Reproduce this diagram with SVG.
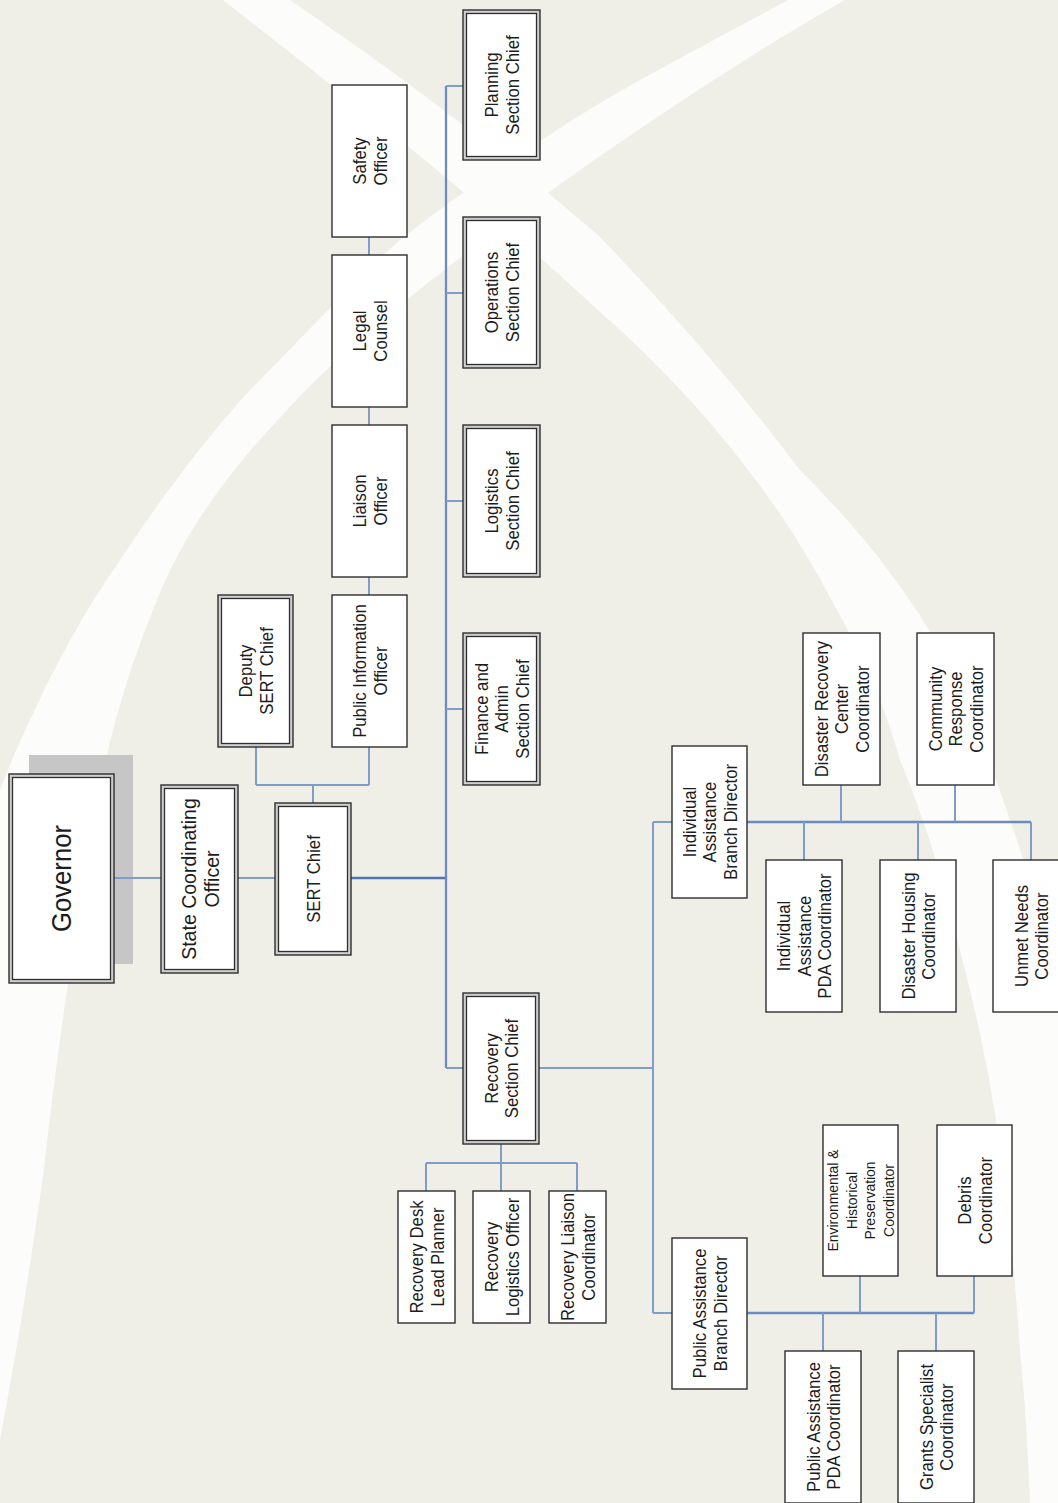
<svg xmlns="http://www.w3.org/2000/svg" width="1058" height="1503" viewBox="0 0 1058 1503">
<style>
.bg{fill:#efefe8}
.band{fill:#fcfcfa}
.box{fill:#ffffff;stroke:#2e2e2e;stroke-width:1.4}
.dbo{fill:#cfcfcf;stroke:#2e2e2e;stroke-width:1.4}
.dbi{fill:#ffffff;stroke:#2e2e2e;stroke-width:1.3}
.c{fill:none;stroke:#7f9dc8;stroke-width:2}
.ck{fill:none;stroke:#4f72b0;stroke-width:2.6}
.cm{fill:none;stroke:#6a8cc2;stroke-width:2.3}
.t{font-family:"Liberation Sans",Arial,sans-serif;font-size:19px;fill:#1c1c1c;text-anchor:middle}
</style>
<rect class="bg" x="0" y="0" width="1058" height="1503"/>
<g id="background">
<path class="band" d="M845,0 C740,60 660,115 600,156 C480,240 360,330 287,410 C230,470 185,530 157,600 C120,690 100,770 90,850 C70,960 55,1070 43,1176 C30,1270 15,1360 0,1440 L0,790 C10,765 20,740 30,720 C55,665 85,610 120,560 C160,500 200,445 250,390 C300,340 350,285 400,240 C470,185 540,140 600,103 C660,68 730,32 788,0 Z"/>
<path class="band" d="M223,0 C350,100 480,200 600,312 C700,400 780,500 833,603 C860,650 885,705 900,760 C925,820 945,885 960,950 C978,1020 992,1085 1000,1150 C1010,1220 1016,1290 1020,1350 C1025,1400 1028,1450 1030,1503 L1058,1503 L1058,1000 C1045,935 1030,875 1010,820 C990,760 965,700 935,640 C900,580 855,525 800,470 C740,390 670,310 600,237 C500,150 400,75 290,0 Z"/>
<rect x="29" y="755" width="104" height="209" fill="#c6c6c6"/>
</g>
<g id="connectors">
<path class="c" d="M114,878 H161"/>
<path class="c" d="M238,878 H275"/>
<path class="ck" d="M351,878 H446"/>
<path class="cm" d="M446,86 V1068"/>
<path class="c" d="M446,86 H463 M446,293 H463 M446,501 H463 M446,709 H463 M446,1068 H463"/>
<path class="c" d="M313,803 V785 M256,785 H369 M256,785 V747 M369,785 V747"/>
<path class="c" d="M369,595 V577 M369,425 V407 M369,255 V237"/>
<path class="c" d="M539,1068 H653 M653,822 V1313 M653,822 H672 M653,1313 H672"/>
<path class="c" d="M501,1144 V1163 M426,1163 H577 M426,1163 V1191 M501,1163 V1191 M577,1163 V1191"/>
<path class="cm" d="M747,822 H1031"/>
<path class="c" d="M804,822 V860 M918,822 V860 M1031,822 V860 M841,822 V785 M955,822 V785"/>
<path class="cm" d="M747,1313 H974"/>
<path class="c" d="M823,1313 V1351 M936,1313 V1351 M860,1313 V1276 M974,1313 V1276"/>
</g>
<g id="governor">
<rect class="dbo" x="9" y="774" width="105" height="209"/><rect class="dbi" x="12.5" y="777.5" width="98" height="202"/>
<text class="t" style="font-size:27px" transform="translate(61.5 878.5) rotate(-90) scale(0.95 1)"><tspan x="0" y="9.7">Governor</tspan></text>
</g>
<g id="sco">
<rect class="dbo" x="161" y="785" width="77" height="188"/><rect class="dbi" x="164.5" y="788.5" width="70" height="181"/>
<text class="t" style="font-size:21px" transform="translate(199.5 879) rotate(-90) scale(0.93 1)"><tspan x="0" y="-3.9">State Coordinating</tspan><tspan x="0" y="19.1">Officer</tspan></text>
</g>
<g id="sert-chief">
<rect class="dbo" x="275" y="803" width="76" height="152"/><rect class="dbi" x="278.5" y="806.5" width="69" height="145"/>
<text class="t" transform="translate(313 879) rotate(-90) scale(0.88 1)"><tspan x="0" y="6.8">SERT Chief</tspan></text>
</g>
<g id="deputy">
<rect class="dbo" x="218" y="595" width="75" height="152"/><rect class="dbi" x="221.5" y="598.5" width="68" height="145"/>
<text class="t" transform="translate(255.5 671) rotate(-90) scale(0.88 1)"><tspan x="0" y="-3.45">Deputy</tspan><tspan x="0" y="17.05">SERT Chief</tspan></text>
</g>
<g id="pio">
<rect class="box" x="332" y="595" width="75" height="152"/>
<text class="t" transform="translate(369.5 671) rotate(-90) scale(0.88 1)"><tspan x="0" y="-3.45">Public Information</tspan><tspan x="0" y="17.05">Officer</tspan></text>
</g>
<g id="liaison">
<rect class="box" x="332" y="425" width="75" height="152"/>
<text class="t" transform="translate(369.5 501) rotate(-90) scale(0.88 1)"><tspan x="0" y="-3.45">Liaison</tspan><tspan x="0" y="17.05">Officer</tspan></text>
</g>
<g id="legal">
<rect class="box" x="332" y="255" width="75" height="152"/>
<text class="t" transform="translate(369.5 331) rotate(-90) scale(0.88 1)"><tspan x="0" y="-3.45">Legal</tspan><tspan x="0" y="17.05">Counsel</tspan></text>
</g>
<g id="safety">
<rect class="box" x="332" y="85" width="75" height="152"/>
<text class="t" transform="translate(369.5 161) rotate(-90) scale(0.88 1)"><tspan x="0" y="-3.45">Safety</tspan><tspan x="0" y="17.05">Officer</tspan></text>
</g>
<g id="planning">
<rect class="dbo" x="463" y="10" width="77" height="150"/><rect class="dbi" x="466.5" y="13.5" width="70" height="143"/>
<text class="t" transform="translate(501.5 85) rotate(-90) scale(0.88 1)"><tspan x="0" y="-3.45">Planning</tspan><tspan x="0" y="17.05">Section Chief</tspan></text>
</g>
<g id="operations">
<rect class="dbo" x="463" y="217" width="77" height="151"/><rect class="dbi" x="466.5" y="220.5" width="70" height="144"/>
<text class="t" transform="translate(501.5 292.5) rotate(-90) scale(0.88 1)"><tspan x="0" y="-3.45">Operations</tspan><tspan x="0" y="17.05">Section Chief</tspan></text>
</g>
<g id="logistics">
<rect class="dbo" x="463" y="425" width="77" height="152"/><rect class="dbi" x="466.5" y="428.5" width="70" height="145"/>
<text class="t" transform="translate(501.5 501) rotate(-90) scale(0.88 1)"><tspan x="0" y="-3.45">Logistics</tspan><tspan x="0" y="17.05">Section Chief</tspan></text>
</g>
<g id="finance">
<rect class="dbo" x="463" y="633" width="77" height="152"/><rect class="dbi" x="466.5" y="636.5" width="70" height="145"/>
<text class="t" transform="translate(501.5 709) rotate(-90) scale(0.88 1)"><tspan x="0" y="-13.7">Finance and</tspan><tspan x="0" y="6.8">Admin</tspan><tspan x="0" y="27.3">Section Chief</tspan></text>
</g>
<g id="recovery">
<rect class="dbo" x="463" y="993" width="76" height="151"/><rect class="dbi" x="466.5" y="996.5" width="69" height="144"/>
<text class="t" transform="translate(501 1068.5) rotate(-90) scale(0.88 1)"><tspan x="0" y="-3.45">Recovery</tspan><tspan x="0" y="17.05">Section Chief</tspan></text>
</g>
<g id="rec-desk">
<rect class="box" x="398" y="1191" width="57" height="132"/>
<text class="t" transform="translate(426.5 1257) rotate(-90) scale(0.88 1)"><tspan x="0" y="-3.45">Recovery Desk</tspan><tspan x="0" y="17.05">Lead Planner</tspan></text>
</g>
<g id="rec-logistics">
<rect class="box" x="473" y="1191" width="57" height="132"/>
<text class="t" transform="translate(501.5 1257) rotate(-90) scale(0.88 1)"><tspan x="0" y="-3.45">Recovery</tspan><tspan x="0" y="17.05">Logistics Officer</tspan></text>
</g>
<g id="rec-liaison">
<rect class="box" x="549" y="1191" width="57" height="132"/>
<text class="t" transform="translate(577.5 1257) rotate(-90) scale(0.88 1)"><tspan x="0" y="-3.45">Recovery Liaison</tspan><tspan x="0" y="17.05">Coordinator</tspan></text>
</g>
<g id="ia-director">
<rect class="box" x="672" y="746" width="75" height="152"/>
<text class="t" transform="translate(709.5 822) rotate(-90) scale(0.88 1)"><tspan x="0" y="-13.7">Individual</tspan><tspan x="0" y="6.8">Assistance</tspan><tspan x="0" y="27.3">Branch Director</tspan></text>
</g>
<g id="drc">
<rect class="box" x="803" y="633" width="77" height="152"/>
<text class="t" transform="translate(841.5 709) rotate(-90) scale(0.88 1)"><tspan x="0" y="-13.7">Disaster Recovery</tspan><tspan x="0" y="6.8">Center</tspan><tspan x="0" y="27.3">Coordinator</tspan></text>
</g>
<g id="crc">
<rect class="box" x="917" y="633" width="77" height="152"/>
<text class="t" transform="translate(955.5 709) rotate(-90) scale(0.88 1)"><tspan x="0" y="-13.7">Community</tspan><tspan x="0" y="6.8">Response</tspan><tspan x="0" y="27.3">Coordinator</tspan></text>
</g>
<g id="ia-pda">
<rect class="box" x="766" y="860" width="76" height="152"/>
<text class="t" transform="translate(804 936) rotate(-90) scale(0.88 1)"><tspan x="0" y="-13.7">Individual</tspan><tspan x="0" y="6.8">Assistance</tspan><tspan x="0" y="27.3">PDA Coordinator</tspan></text>
</g>
<g id="housing">
<rect class="box" x="880" y="860" width="76" height="152"/>
<text class="t" transform="translate(918 936) rotate(-90) scale(0.88 1)"><tspan x="0" y="-3.45">Disaster Housing</tspan><tspan x="0" y="17.05">Coordinator</tspan></text>
</g>
<g id="unmet">
<rect class="box" x="993" y="860" width="76" height="152"/>
<text class="t" transform="translate(1031 936) rotate(-90) scale(0.88 1)"><tspan x="0" y="-3.45">Unmet Needs</tspan><tspan x="0" y="17.05">Coordinator</tspan></text>
</g>
<g id="pa-director">
<rect class="box" x="672" y="1238" width="75" height="151"/>
<text class="t" transform="translate(709.5 1313.5) rotate(-90) scale(0.88 1)"><tspan x="0" y="-3.45">Public Assistance</tspan><tspan x="0" y="17.05">Branch Director</tspan></text>
</g>
<g id="env-hist">
<rect class="box" x="823" y="1125" width="75" height="151"/>
<text class="t" style="font-size:15px" transform="translate(860.5 1200.5) rotate(-90) scale(0.93 1)"><tspan x="0" y="-22.35">Environmental &amp;</tspan><tspan x="0" y="-3.85">Historical</tspan><tspan x="0" y="14.65">Preservation</tspan><tspan x="0" y="33.15">Coordinator</tspan></text>
</g>
<g id="debris">
<rect class="box" x="937" y="1125" width="75" height="151"/>
<text class="t" transform="translate(974.5 1200.5) rotate(-90) scale(0.88 1)"><tspan x="0" y="-3.45">Debris</tspan><tspan x="0" y="17.05">Coordinator</tspan></text>
</g>
<g id="pa-pda">
<rect class="box" x="785" y="1351" width="76" height="152"/>
<text class="t" transform="translate(823 1427) rotate(-90) scale(0.88 1)"><tspan x="0" y="-3.45">Public Assistance</tspan><tspan x="0" y="17.05">PDA Coordinator</tspan></text>
</g>
<g id="grants">
<rect class="box" x="898" y="1351" width="76" height="152"/>
<text class="t" transform="translate(936 1427) rotate(-90) scale(0.88 1)"><tspan x="0" y="-3.45">Grants Specialist</tspan><tspan x="0" y="17.05">Coordinator</tspan></text>
</g>
</svg>
